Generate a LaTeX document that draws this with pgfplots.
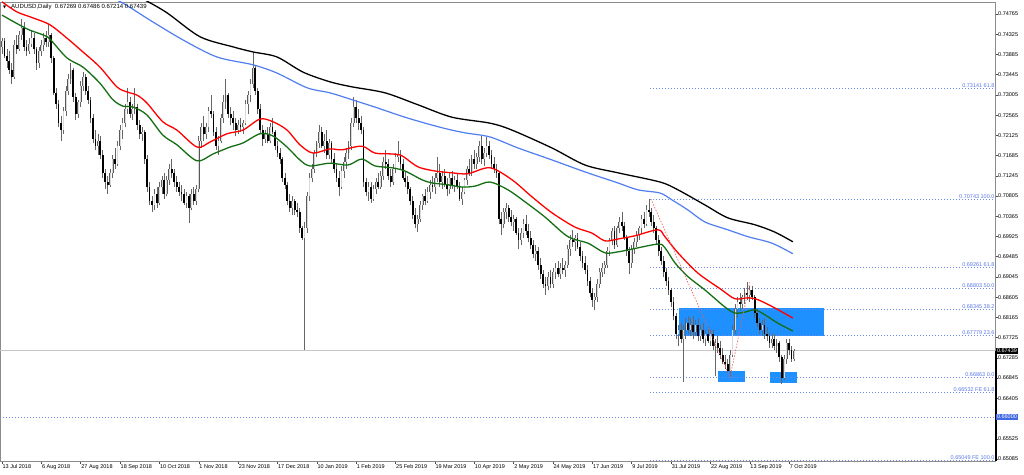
\documentclass[border=0pt]{standalone}
\usepackage{pgfplots}
\usepackage{pgfplotstable}
\pgfplotsset{compat=1.18}
\usepackage{fontspec}
\setmainfont{Liberation Sans}
\newfontfamily\symfont{DejaVu Sans}

\definecolor{maGreen}{RGB}{20,110,20}
\definecolor{maBlue}{RGB}{80,125,240}
\definecolor{fibLine}{RGB}{110,140,240}
\definecolor{fibText}{RGB}{90,120,230}
\definecolor{zoneBlue}{RGB}{30,144,255}
\definecolor{priceBlue}{RGB}{65,105,225}
\definecolor{feRed}{RGB}{240,90,90}
\newcommand\tf{\fontsize{5.5}{6}\selectfont}

% AUDUSD daily, bar index from 13 Jul 2018
\pgfplotstableread{
i o h l c
0 0.7405 0.7425 0.7390 0.7418
1 0.7418 0.7425 0.7380 0.7385
2 0.7385 0.7400 0.7360 0.7375
3 0.7375 0.7395 0.7345 0.7355
4 0.7355 0.7370 0.7325 0.7340
5 0.7340 0.7420 0.7335 0.7410
6 0.7410 0.7430 0.7390 0.7400
7 0.7400 0.7440 0.7395 0.7430
8 0.7430 0.7465 0.7420 0.7445
9 0.7445 0.7460 0.7395 0.7405
10 0.7405 0.7420 0.7385 0.7395
11 0.7395 0.7425 0.7390 0.7412
12 0.7412 0.7440 0.7405 0.7425
13 0.7425 0.7435 0.7390 0.7400
14 0.7400 0.7405 0.7355 0.7370
15 0.7370 0.7405 0.7360 0.7395
16 0.7395 0.7420 0.7385 0.7410
17 0.7410 0.7435 0.7395 0.7425
18 0.7425 0.7440 0.7405 0.7415
19 0.7415 0.7455 0.7405 0.7430
20 0.7430 0.7435 0.7370 0.7380
21 0.7380 0.7385 0.7300 0.7305
22 0.7305 0.7315 0.7270 0.7280
23 0.7280 0.7290 0.7230 0.7240
24 0.7240 0.7255 0.7200 0.7225
25 0.7225 0.7275 0.7215 0.7265
26 0.7265 0.7320 0.7255 0.7310
27 0.7310 0.7345 0.7300 0.7335
28 0.7335 0.7370 0.7325 0.7355
29 0.7355 0.7360 0.7285 0.7295
30 0.7295 0.7305 0.7245 0.7260
31 0.7260 0.7290 0.7250 0.7285
32 0.7285 0.7330 0.7275 0.7320
33 0.7320 0.7350 0.7310 0.7340
34 0.7340 0.7345 0.7300 0.7310
35 0.7310 0.7320 0.7280 0.7290
36 0.7290 0.7295 0.7240 0.7250
37 0.7250 0.7260 0.7195 0.7205
38 0.7205 0.7225 0.7180 0.7190
39 0.7190 0.7215 0.7170 0.7200
40 0.7200 0.7210 0.7160 0.7170
41 0.7170 0.7180 0.7120 0.7130
42 0.7130 0.7140 0.7095 0.7110
43 0.7110 0.7125 0.7085 0.7105
44 0.7105 0.7140 0.7100 0.7130
45 0.7130 0.7170 0.7120 0.7160
46 0.7160 0.7185 0.7140 0.7150
47 0.7150 0.7200 0.7145 0.7190
48 0.7190 0.7235 0.7180 0.7225
49 0.7225 0.7250 0.7205 0.7240
50 0.7240 0.7280 0.7230 0.7270
51 0.7270 0.7315 0.7260 0.7285
52 0.7285 0.7295 0.7250 0.7260
53 0.7260 0.7280 0.7245 0.7270
54 0.7270 0.7315 0.7260 0.7275
55 0.7275 0.7280 0.7225 0.7235
56 0.7235 0.7245 0.7205 0.7215
57 0.7215 0.7230 0.7200 0.7220
58 0.7220 0.7225 0.7150 0.7160
59 0.7160 0.7170 0.7090 0.7100
60 0.7100 0.7110 0.7060 0.7070
61 0.7070 0.7080 0.7045 0.7060
62 0.7060 0.7095 0.7050 0.7085
63 0.7085 0.7100 0.7055 0.7065
64 0.7065 0.7110 0.7060 0.7100
65 0.7100 0.7125 0.7085 0.7115
66 0.7115 0.7130 0.7075 0.7085
67 0.7085 0.7125 0.7080 0.7115
68 0.7115 0.7150 0.7105 0.7140
69 0.7140 0.7160 0.7120 0.7130
70 0.7130 0.7140 0.7100 0.7110
71 0.7110 0.7125 0.7090 0.7100
72 0.7100 0.7110 0.7080 0.7090
73 0.7090 0.7105 0.7070 0.7085
74 0.7085 0.7095 0.7060 0.7065
75 0.7065 0.7090 0.7055 0.7080
76 0.7080 0.7085 0.7022 0.7055
77 0.7055 0.7095 0.7050 0.7085
78 0.7085 0.7100 0.7060 0.7070
79 0.7070 0.7105 0.7060 0.7095
80 0.7095 0.7210 0.7090 0.7200
81 0.7200 0.7240 0.7185 0.7230
82 0.7230 0.7255 0.7200 0.7215
83 0.7215 0.7240 0.7205 0.7230
84 0.7230 0.7275 0.7220 0.7265
85 0.7265 0.7300 0.7250 0.7260
86 0.7260 0.7265 0.7210 0.7220
87 0.7220 0.7230 0.7180 0.7190
88 0.7190 0.7210 0.7170 0.7200
89 0.7200 0.7260 0.7195 0.7250
90 0.7250 0.7300 0.7240 0.7285
91 0.7285 0.7335 0.7270 0.7300
92 0.7300 0.7305 0.7250 0.7260
93 0.7260 0.7275 0.7235 0.7250
94 0.7250 0.7265 0.7225 0.7240
95 0.7240 0.7250 0.7210 0.7225
96 0.7225 0.7245 0.7215 0.7235
97 0.7235 0.7250 0.7220 0.7230
98 0.7230 0.7245 0.7215 0.7240
99 0.7240 0.7290 0.7235 0.7280
100 0.7280 0.7310 0.7260 0.7300
101 0.7300 0.7335 0.7285 0.7325
102 0.7325 0.7394 0.7315 0.7360
103 0.7360 0.7365 0.7300 0.7310
104 0.7310 0.7315 0.7260 0.7270
105 0.7270 0.7280 0.7215 0.7225
106 0.7225 0.7235 0.7190 0.7205
107 0.7205 0.7225 0.7195 0.7215
108 0.7215 0.7230 0.7195 0.7200
109 0.7200 0.7240 0.7195 0.7230
110 0.7230 0.7250 0.7215 0.7220
111 0.7220 0.7225 0.7180 0.7190
112 0.7190 0.7200 0.7165 0.7175
113 0.7175 0.7185 0.7150 0.7160
114 0.7160 0.7165 0.7110 0.7120
115 0.7120 0.7130 0.7095 0.7105
116 0.7105 0.7110 0.7060 0.7070
117 0.7070 0.7085 0.7045 0.7055
118 0.7055 0.7080 0.7040 0.7070
119 0.7070 0.7075 0.7040 0.7050
120 0.7050 0.7065 0.7035 0.7045
121 0.7045 0.7055 0.7000 0.7010
122 0.7010 0.7015 0.6985 0.6990
123 0.6990 0.7025 0.6746 0.7010
124 0.7010 0.7090 0.7000 0.7080
125 0.7080 0.7130 0.7070 0.7120
126 0.7120 0.7150 0.7110 0.7140
127 0.7140 0.7180 0.7130 0.7175
128 0.7175 0.7200 0.7165 0.7195
129 0.7195 0.7235 0.7185 0.7220
130 0.7220 0.7230 0.7185 0.7190
131 0.7190 0.7215 0.7175 0.7200
132 0.7200 0.7225 0.7160 0.7170
133 0.7170 0.7205 0.7160 0.7195
134 0.7195 0.7200 0.7150 0.7160
135 0.7160 0.7175 0.7130 0.7140
136 0.7140 0.7150 0.7110 0.7120
137 0.7120 0.7135 0.7080 0.7100
138 0.7100 0.7145 0.7095 0.7135
139 0.7135 0.7165 0.7120 0.7155
140 0.7155 0.7185 0.7140 0.7175
141 0.7175 0.7200 0.7160 0.7190
142 0.7190 0.7250 0.7180 0.7240
143 0.7240 0.7295 0.7230 0.7275
144 0.7275 0.7290 0.7240 0.7250
145 0.7250 0.7270 0.7225 0.7240
146 0.7240 0.7255 0.7215 0.7225
147 0.7225 0.7230 0.7100 0.7110
148 0.7110 0.7120 0.7080 0.7090
149 0.7090 0.7110 0.7070 0.7100
150 0.7100 0.7110 0.7065 0.7075
151 0.7075 0.7105 0.7070 0.7095
152 0.7095 0.7120 0.7085 0.7110
153 0.7110 0.7130 0.7095 0.7100
154 0.7100 0.7135 0.7095 0.7125
155 0.7125 0.7165 0.7115 0.7155
156 0.7155 0.7180 0.7140 0.7150
157 0.7150 0.7160 0.7115 0.7125
158 0.7125 0.7140 0.7100 0.7110
159 0.7110 0.7150 0.7105 0.7140
160 0.7140 0.7175 0.7130 0.7165
161 0.7165 0.7200 0.7155 0.7170
162 0.7170 0.7180 0.7140 0.7150
163 0.7150 0.7160 0.7115 0.7120
164 0.7120 0.7135 0.7100 0.7110
165 0.7110 0.7125 0.7085 0.7095
166 0.7095 0.7100 0.7060 0.7070
167 0.7070 0.7080 0.7030 0.7040
168 0.7040 0.7055 0.7010 0.7020
169 0.7020 0.7040 0.7003 0.7030
170 0.7030 0.7070 0.7025 0.7060
171 0.7060 0.7085 0.7050 0.7080
172 0.7080 0.7095 0.7060 0.7070
173 0.7070 0.7100 0.7065 0.7090
174 0.7090 0.7115 0.7075 0.7105
175 0.7105 0.7125 0.7090 0.7100
176 0.7100 0.7130 0.7085 0.7120
177 0.7120 0.7165 0.7110 0.7130
178 0.7130 0.7150 0.7100 0.7110
179 0.7110 0.7135 0.7095 0.7125
180 0.7125 0.7140 0.7100 0.7105
181 0.7105 0.7120 0.7080 0.7095
182 0.7095 0.7130 0.7085 0.7120
183 0.7120 0.7135 0.7095 0.7105
184 0.7105 0.7125 0.7090 0.7115
185 0.7115 0.7130 0.7095 0.7100
186 0.7100 0.7110 0.7070 0.7075
187 0.7075 0.7100 0.7060 0.7090
188 0.7090 0.7120 0.7085 0.7115
189 0.7115 0.7145 0.7105 0.7140
190 0.7140 0.7160 0.7125 0.7130
191 0.7130 0.7170 0.7125 0.7160
192 0.7160 0.7180 0.7140 0.7150
193 0.7150 0.7175 0.7140 0.7165
194 0.7165 0.7200 0.7155 0.7190
195 0.7190 0.7210 0.7150 0.7160
196 0.7160 0.7185 0.7145 0.7175
197 0.7175 0.7208 0.7165 0.7190
198 0.7190 0.7200 0.7160 0.7170
199 0.7170 0.7180 0.7140 0.7150
200 0.7150 0.7165 0.7130 0.7140
201 0.7140 0.7150 0.7120 0.7130
202 0.7130 0.7135 0.7020 0.7030
203 0.7030 0.7045 0.6995 0.7020
204 0.7020 0.7055 0.7010 0.7045
205 0.7045 0.7065 0.7030 0.7055
206 0.7055 0.7060 0.7025 0.7035
207 0.7035 0.7050 0.7015 0.7025
208 0.7025 0.7040 0.7005 0.7030
209 0.7030 0.7035 0.6995 0.7000
210 0.7000 0.7010 0.6965 0.6985
211 0.6985 0.7010 0.6975 0.7000
212 0.7000 0.7030 0.6990 0.7020
213 0.7020 0.7040 0.6995 0.7005
214 0.7005 0.7020 0.6980 0.6990
215 0.6990 0.7005 0.6965 0.6975
216 0.6975 0.6985 0.6945 0.6955
217 0.6955 0.6975 0.6940 0.6960
218 0.6960 0.6970 0.6920 0.6930
219 0.6930 0.6945 0.6900 0.6910
220 0.6910 0.6920 0.6880 0.6890
221 0.6890 0.6905 0.6866 0.6885
222 0.6885 0.6915 0.6875 0.6905
223 0.6905 0.6920 0.6880 0.6890
224 0.6890 0.6925 0.6880 0.6915
225 0.6915 0.6935 0.6900 0.6925
226 0.6925 0.6940 0.6905 0.6910
227 0.6910 0.6935 0.6900 0.6925
228 0.6925 0.6945 0.6910 0.6920
229 0.6920 0.6940 0.6905 0.6930
230 0.6930 0.6975 0.6925 0.6965
231 0.6965 0.6995 0.6950 0.6985
232 0.6985 0.7007 0.6970 0.6980
233 0.6980 0.6995 0.6960 0.6990
234 0.6990 0.7000 0.6965 0.6970
235 0.6970 0.6980 0.6940 0.6950
236 0.6950 0.6960 0.6925 0.6935
237 0.6935 0.6950 0.6910 0.6920
238 0.6920 0.6930 0.6885 0.6895
239 0.6895 0.6905 0.6860 0.6870
240 0.6870 0.6880 0.6840 0.6855
241 0.6855 0.6870 0.6832 0.6860
242 0.6860 0.6900 0.6850 0.6890
243 0.6890 0.6925 0.6880 0.6915
244 0.6915 0.6935 0.6905 0.6925
245 0.6925 0.6940 0.6910 0.6930
246 0.6930 0.6970 0.6925 0.6960
247 0.6960 0.6990 0.6950 0.6985
248 0.6985 0.7010 0.6975 0.7005
249 0.7005 0.7015 0.6965 0.6975
250 0.6975 0.7015 0.6970 0.7010
251 0.7010 0.7035 0.7000 0.7025
252 0.7025 0.7045 0.7005 0.7015
253 0.7015 0.7025 0.6985 0.6990
254 0.6990 0.6995 0.6950 0.6960
255 0.6960 0.6970 0.6910 0.6935
256 0.6935 0.6975 0.6925 0.6965
257 0.6965 0.6990 0.6955 0.6980
258 0.6980 0.7005 0.6970 0.6995
259 0.6995 0.7015 0.6985 0.7010
260 0.7010 0.7040 0.7000 0.7030
261 0.7030 0.7045 0.7010 0.7020
262 0.7020 0.7060 0.7015 0.7050
263 0.7050 0.70743 0.7035 0.7045
264 0.7045 0.7055 0.7015 0.7025
265 0.7025 0.7040 0.7000 0.7010
266 0.7010 0.7015 0.6975 0.6985
267 0.6985 0.6995 0.6950 0.6960
268 0.6960 0.6970 0.6930 0.6940
269 0.6940 0.6950 0.6905 0.6915
270 0.6915 0.6925 0.6885 0.6895
271 0.6895 0.6905 0.6865 0.6875
272 0.6875 0.6880 0.6840 0.6850
273 0.6850 0.6860 0.6810 0.6820
274 0.6820 0.6825 0.6770 0.6780
275 0.6780 0.6800 0.6755 0.6790
276 0.6790 0.6805 0.6760 0.6770
277 0.6770 0.6800 0.6677 0.6790
278 0.6790 0.6815 0.6770 0.6805
279 0.6805 0.6820 0.6780 0.6790
280 0.6790 0.6815 0.6775 0.6800
281 0.6800 0.6820 0.6770 0.6785
282 0.6785 0.6810 0.6775 0.6800
283 0.6800 0.6815 0.6765 0.6775
284 0.6775 0.6800 0.6765 0.6790
285 0.6790 0.6805 0.6760 0.6770
286 0.6770 0.6790 0.6755 0.6780
287 0.6780 0.6795 0.6760 0.6765
288 0.6765 0.6790 0.6755 0.6780
289 0.6780 0.6790 0.6745 0.6755
290 0.6755 0.6770 0.6688 0.6760
291 0.6760 0.6775 0.6740 0.6750
292 0.6750 0.6765 0.6725 0.6735
293 0.6735 0.6750 0.6715 0.6720
294 0.6720 0.6735 0.6705 0.6715
295 0.6715 0.6725 0.6695 0.6700
296 0.6700 0.6745 0.6686 0.6735
297 0.6735 0.6800 0.6730 0.6790
298 0.6790 0.6845 0.6780 0.6835
299 0.6835 0.6860 0.6815 0.6850
300 0.6850 0.6870 0.6830 0.6845
301 0.6845 0.6865 0.6835 0.6860
302 0.6860 0.6880 0.6845 0.6870
303 0.6870 0.6893 0.6855 0.6865
304 0.6865 0.6885 0.6850 0.6875
305 0.6875 0.6885 0.6855 0.6860
306 0.6860 0.6865 0.6815 0.6825
307 0.6825 0.6835 0.6795 0.6805
308 0.6805 0.6815 0.6780 0.6790
309 0.6790 0.6810 0.6775 0.6800
310 0.6800 0.6815 0.6770 0.6780
311 0.6780 0.6795 0.6765 0.6775
312 0.6775 0.6785 0.6750 0.6760
313 0.6760 0.6780 0.6750 0.6770
314 0.6770 0.6780 0.6745 0.6755
315 0.6755 0.6770 0.6740 0.6760
316 0.6760 0.6765 0.6720 0.6730
317 0.6730 0.6735 0.6671 0.6685
318 0.6685 0.6735 0.6680 0.6725
319 0.6725 0.6770 0.6715 0.6760
320 0.6760 0.6770 0.6735 0.6745
321 0.6745 0.6755 0.6720 0.6727
322 0.67269 0.67486 0.67214 0.67439
}\ohlc

\begin{document}
\begin{tikzpicture}
\path[use as bounding box] (0pt,0pt) rectangle (1024pt,474pt);
\begin{axis}[
  at={(0pt,13pt)}, anchor=south west,
  scale only axis, width=995pt, height=459pt,
  xmin=-0.8, xmax=403.7, ymin=0.65041, ymax=0.75026,
  clip mode=individual,
  axis line style={draw=black!45, line width=0.6pt},
  xtick pos=bottom, ytick pos=right,
  tick align=outside, major tick length=2.5pt,
  tick style={draw=black!70, line width=0.5pt},
  xtick={0,16,...,320},
  xticklabels={13 Jul 2018,6 Aug 2018,27 Aug 2018,18 Sep 2018,10 Oct 2018,1 Nov 2018,23 Nov 2018,17 Dec 2018,10 Jan 2019,1 Feb 2019,25 Feb 2019,19 Mar 2019,10 Apr 2019,2 May 2019,24 May 2019,17 Jun 2019,9 Jul 2019,31 Jul 2019,22 Aug 2019,13 Sep 2019,7 Oct 2019},
  xticklabel style={anchor=north west, font=\tf, inner sep=0.5pt},
  ytick={0.74765,0.74325,0.73885,0.73445,0.73005,0.72565,0.72125,0.71685,0.71245,0.70805,0.70365,0.69925,0.69485,0.69045,0.68605,0.68165,0.67725,0.67285,0.66845,0.66405,0.65525,0.65085},
  yticklabels={0.74765,0.74325,0.73885,0.73445,0.73005,0.72565,0.72125,0.71685,0.71245,0.70805,0.70365,0.69925,0.69485,0.69045,0.68605,0.68165,0.67725,0.67285,0.66845,0.66405,0.65525,0.65085},
  yticklabel style={anchor=west, font=\tf, inner sep=0.5pt},
  candle/.style={draw=none, mark=none, forget plot,
    error bars/y dir=plus, error bars/y explicit, error bars/error mark=none},
]
% zones
\addplot[fill=zoneBlue, draw=none] coordinates {(275.2,0.68371) (334.1,0.68371) (334.1,0.67762) (275.2,0.67762)} -- cycle;
\addplot[fill=zoneBlue, draw=none] coordinates {(291.1,0.66999) (302.0,0.66999) (302.0,0.66762) (291.1,0.66762)} -- cycle;
\addplot[fill=zoneBlue, draw=none] coordinates {(312.2,0.66979) (323.2,0.66979) (323.2,0.66740) (312.2,0.66740)} -- cycle;

% fibonacci levels
\pgfplotsinvokeforeach{0.73141,0.70743,0.69261,0.68803,0.68345,0.67779,0.66863,0.66532,0.65049}{
  \addplot[fibLine, line width=0.6pt, dash pattern=on 1pt off 2pt] coordinates {(263.4,#1) (403.7,#1)};
}
\addplot[fibLine, line width=0.6pt, dash pattern=on 1pt off 2pt] coordinates {(-0.8,0.66) (403.7,0.66)};
\addplot[black!22, line width=0.6pt] coordinates {(-0.8,0.67439) (403.7,0.67439)};

% candles: wicks, then bull and bear bodies
\addplot[candle, error bars/error bar style={draw=black!60, solid, line width=0.7pt}]
  table[x=i, y=l, y error expr=\thisrow{h}-\thisrow{l}] {\ohlc};
\addplot[candle, restrict expr to domain={\thisrow{c}-\thisrow{o}}{0:1},
  error bars/error bar style={draw=black!65, solid, line width=1.8pt}]
  table[x=i, y=o, y error expr=\thisrow{c}-\thisrow{o}] {\ohlc};
\addplot[candle, restrict expr to domain={\thisrow{c}-\thisrow{o}}{0:1},
  error bars/error bar style={draw=black!15, solid, line width=0.6pt}]
  table[x=i, y=o, y error expr=\thisrow{c}-\thisrow{o}] {\ohlc};
\addplot[candle, restrict expr to domain={\thisrow{o}-\thisrow{c}}{0.00001:1},
  error bars/error bar style={draw=black, solid, line width=1.8pt}]
  table[x=i, y=c, y error expr=\thisrow{o}-\thisrow{c}] {\ohlc};

% moving averages
\addplot[black, line width=1.3pt, smooth] coordinates {
(52,0.7524) (58.1,0.7507) (67.1,0.7479) (80.5,0.7427) (93.9,0.7405) (102.0,0.7394) (111.8,0.7383)
(122.4,0.7350) (133.3,0.7329) (142.3,0.7318) (155.7,0.7305) (169.1,0.7279) (182.9,0.7252)
(198.4,0.7239) (207.3,0.7224) (223.6,0.7185) (237.0,0.7148) (250.4,0.7131) (267.5,0.7111)
(274.8,0.7094) (285.8,0.7061) (295.1,0.7033) (306.1,0.7018) (314.2,0.7002) (321.5,0.6981)};
\addplot[maBlue, line width=1.2pt, smooth] coordinates {
(39.8,0.7524) (49.2,0.7500) (60.2,0.7463) (73.6,0.7420) (87.4,0.7383) (102.0,0.7366) (111.8,0.7348)
(124.0,0.7316) (133.3,0.7305) (142.3,0.7290) (151.6,0.7274) (165.0,0.7250) (178.9,0.7229)
(188.2,0.7218) (198.4,0.7209) (209.8,0.7185) (223.6,0.7159) (237.0,0.7133) (250.4,0.7109)
(258.5,0.7094) (267.5,0.7087) (272.4,0.7072) (278.9,0.7050) (285.8,0.7024) (295.1,0.7007)
(303.3,0.6992) (313.0,0.6978) (321.5,0.6955)};
\addplot[red, line width=1.3pt, smooth] coordinates {
(0,0.7503) (6.1,0.7481) (12.6,0.7468) (19.5,0.7453) (26.4,0.7424) (32.9,0.7394) (39.8,0.7361)
(46.7,0.7318) (50.8,0.7307) (54.9,0.7300) (58.9,0.7283) (65.4,0.7242) (71.1,0.7224) (79.3,0.7187)
(84.6,0.7198) (91.5,0.7216) (98.0,0.7224) (104.9,0.7248) (110.2,0.7242) (115.9,0.7224)
(121.1,0.7192) (126.4,0.7174) (133.3,0.7183) (138.2,0.7181) (146.3,0.7189) (151.6,0.7174)
(158.5,0.7172) (162.6,0.7168) (169.1,0.7144) (176.0,0.7135) (182.9,0.7131) (189.4,0.7129)
(198.4,0.7142) (207.3,0.7116) (215.4,0.7079) (223.6,0.7044) (232.9,0.7013) (239.8,0.7000)
(245.1,0.6983) (250.4,0.6987) (257.3,0.6994) (266.7,0.7007) (269.5,0.6992) (274.8,0.6957)
(282.9,0.6913) (292.7,0.6876) (298.0,0.6857) (303.3,0.6859) (307.3,0.6855) (314.2,0.6837)
(321.5,0.6815)};
\addplot[maGreen, line width=1.3pt, smooth] coordinates {
(0,0.7474) (10.2,0.7444) (16.7,0.7431) (19.5,0.7422) (26.4,0.7381) (32.9,0.7361) (39.8,0.7326)
(45.1,0.7290) (49.2,0.7276) (53.3,0.7274) (58.9,0.7257) (65.4,0.7213) (71.1,0.7192) (79.3,0.7157)
(85.8,0.7172) (92.7,0.7187) (98.0,0.7196) (104.9,0.7216) (110.2,0.7211) (115.9,0.7187)
(121.1,0.7159) (125.2,0.7146) (133.3,0.7152) (140.7,0.7148) (146.3,0.7161) (151.6,0.7146)
(158.5,0.7142) (163.8,0.7135) (170.7,0.7116) (174.8,0.7109) (181.3,0.7105) (187.0,0.7100)
(192.3,0.7102) (198.4,0.7111) (205.7,0.7094) (212.6,0.7068) (220.7,0.7035) (230.1,0.6992)
(238.2,0.6978) (245.1,0.6957) (250.4,0.6959) (256.1,0.6965) (266.7,0.6976) (269.5,0.6968)
(273.6,0.6935) (278.9,0.6905) (285.8,0.6876) (293.9,0.6839) (298.0,0.6826) (302.0,0.6828)
(306.1,0.6833) (310.2,0.6822) (315.4,0.6804) (321.5,0.6787)};

% expansion tool
\addplot[feRed, line width=0.6pt, dash pattern=on 1.5pt off 1.5pt] coordinates {(263.8,0.70743) (296,0.66863) (304,0.68929)};

% level labels
\node[anchor=south east, inner sep=0.4pt, text=fibText, font=\tf] at (axis cs:403.7,0.73141) {0.73141 61.8};
\node[anchor=south east, inner sep=0.4pt, text=fibText, font=\tf] at (axis cs:403.7,0.70743) {0.70743 100.0};
\node[anchor=south east, inner sep=0.4pt, text=fibText, font=\tf] at (axis cs:403.7,0.69261) {0.69261 61.8};
\node[anchor=south east, inner sep=0.4pt, text=fibText, font=\tf] at (axis cs:403.7,0.68803) {0.68803 50.0};
\node[anchor=south east, inner sep=0.4pt, text=fibText, font=\tf] at (axis cs:403.7,0.68345) {0.68345 38.2};
\node[anchor=south east, inner sep=0.4pt, text=fibText, font=\tf] at (axis cs:403.7,0.67779) {0.67779 23.6};
\node[anchor=south east, inner sep=0.4pt, text=fibText, font=\tf] at (axis cs:403.7,0.66863) {0.66863 0.0};
\node[anchor=south east, inner sep=0.4pt, text=fibText, font=\tf] at (axis cs:403.7,0.66532) {0.66532 FE 61.8};
\node[anchor=south east, inner sep=0.4pt, text=fibText, font=\tf] at (axis cs:403.7,0.65049) {0.65049 FE 100.0};
% price scale marks
\draw[black, line width=2pt] ([xshift=1pt]axis cs:403.7,0.67439) -- ([xshift=1pt]axis cs:403.7,0.65041);
\node[fill=black, text=white, anchor=west, inner sep=0.8pt, font=\tf] at ([xshift=1pt]axis cs:403.7,0.67439) {0.67439};
\node[fill=priceBlue, text=white, anchor=west, inner sep=0.8pt, font=\tf] at ([xshift=1pt]axis cs:403.7,0.66) {0.66000};
% header
\node[anchor=west, inner sep=0pt, font=\symfont\fontsize{4}{4}\selectfont] at ([xshift=3pt,yshift=-5pt]rel axis cs:0,1) {▼};
\node[anchor=west, inner sep=0pt, font=\fontsize{6}{7}\selectfont] at ([xshift=11pt,yshift=-5pt]rel axis cs:0,1) {AUDUSD,Daily\ \ 0.67269 0.67486 0.67214 0.67439};
\end{axis}
\end{tikzpicture}
\end{document}
